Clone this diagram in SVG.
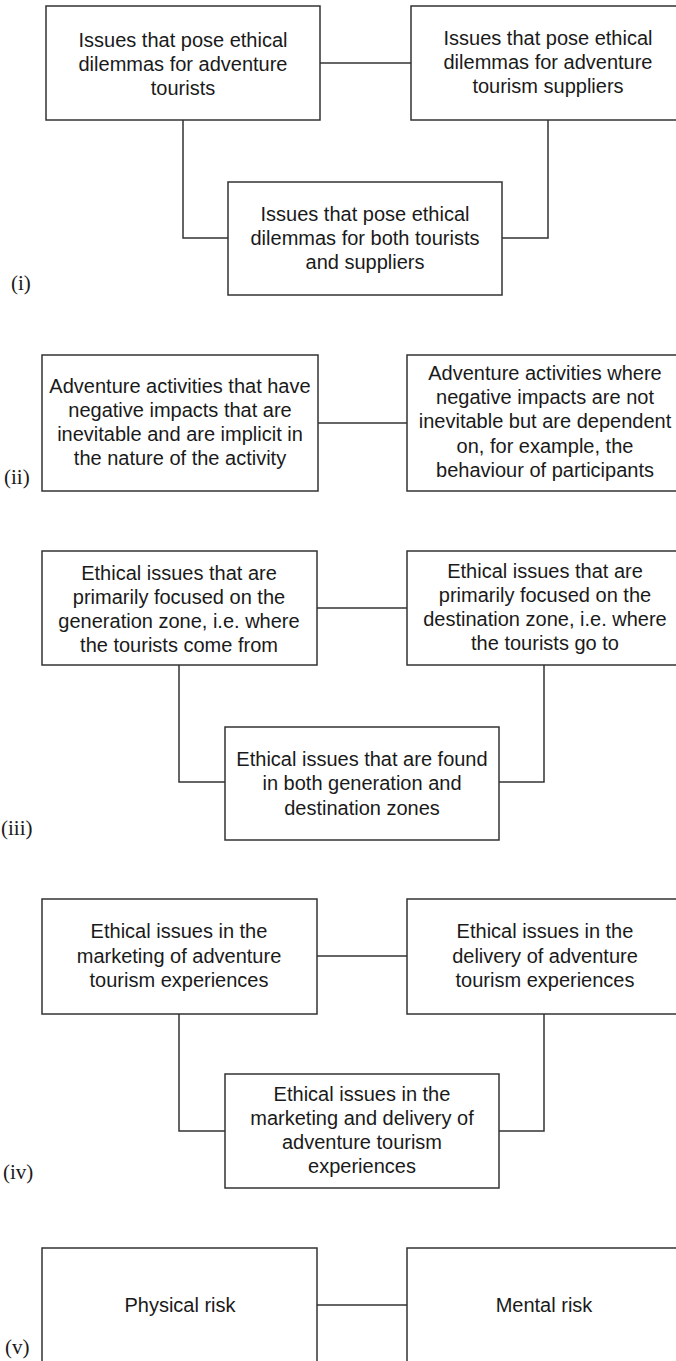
<svg xmlns="http://www.w3.org/2000/svg" width="676" height="1361" viewBox="0 0 676 1361">
<style>
.box{fill:#fff;stroke:#333;stroke-width:1.5}
.con{fill:none;stroke:#333;stroke-width:1.5}
.t{font-family:"Liberation Sans",Arial,sans-serif;font-size:20px;fill:#1a1a1a;text-anchor:middle}
.lab{font-family:"Liberation Serif","Times New Roman",serif;font-size:21px;fill:#1a1a1a}
</style>
<rect width="676" height="1361" fill="#fff"/>
<g id="connectors">
<path class="con" d="M320,63H411"/>
<path class="con" d="M183,120V238H228"/>
<path class="con" d="M548,120V238H502"/>
<path class="con" d="M318,423H407"/>
<path class="con" d="M317,608H407"/>
<path class="con" d="M179,665V782H225"/>
<path class="con" d="M544,665V782H499"/>
<path class="con" d="M317,956H407"/>
<path class="con" d="M179,1014V1131H225"/>
<path class="con" d="M544,1014V1131H499"/>
<path class="con" d="M317,1305H407"/>
</g>
<g id="i-a"><rect class="box" x="46" y="6" width="274" height="114"/>
<text class="t" x="183" y="47">Issues that pose ethical</text><text class="t" x="183" y="71">dilemmas for adventure</text><text class="t" x="183" y="95">tourists</text></g>
<g id="i-b"><rect class="box" x="411" y="6" width="280" height="114"/>
<text class="t" x="548" y="45">Issues that pose ethical</text><text class="t" x="548" y="69">dilemmas for adventure</text><text class="t" x="548" y="93">tourism suppliers</text></g>
<g id="i-c"><rect class="box" x="228" y="182" width="274" height="113"/>
<text class="t" x="365" y="221">Issues that pose ethical</text><text class="t" x="365" y="245">dilemmas for both tourists</text><text class="t" x="365" y="269">and suppliers</text></g>
<text class="lab" x="11" y="290">(i)</text>
<g id="ii-a"><rect class="box" x="42" y="355" width="276" height="136"/>
<text class="t" x="180" y="393">Adventure activities that have</text><text class="t" x="180" y="417">negative impacts that are</text><text class="t" x="180" y="441">inevitable and are implicit in</text><text class="t" x="180" y="465">the nature of the activity</text></g>
<g id="ii-b"><rect class="box" x="407" y="355" width="280" height="136"/>
<text class="t" x="545" y="380">Adventure activities where</text><text class="t" x="545" y="404">negative impacts are not</text><text class="t" x="545" y="428">inevitable but are dependent</text><text class="t" x="545" y="453">on, for example, the</text><text class="t" x="545" y="477">behaviour of participants</text></g>
<text class="lab" x="4" y="484">(ii)</text>
<g id="iii-a"><rect class="box" x="42" y="551" width="275" height="114"/>
<text class="t" x="179" y="580">Ethical issues that are</text><text class="t" x="179" y="604">primarily focused on the</text><text class="t" x="179" y="628">generation zone, i.e. where</text><text class="t" x="179" y="652">the tourists come from</text></g>
<g id="iii-b"><rect class="box" x="407" y="551" width="280" height="114"/>
<text class="t" x="545" y="578">Ethical issues that are</text><text class="t" x="545" y="602">primarily focused on the</text><text class="t" x="545" y="626">destination zone, i.e. where</text><text class="t" x="545" y="650">the tourists go to</text></g>
<g id="iii-c"><rect class="box" x="225" y="727" width="274" height="113"/>
<text class="t" x="362" y="766">Ethical issues that are found</text><text class="t" x="362" y="790">in both generation and</text><text class="t" x="362" y="815">destination zones</text></g>
<text class="lab" x="1" y="835">(iii)</text>
<g id="iv-a"><rect class="box" x="42" y="899" width="275" height="115"/>
<text class="t" x="179" y="938">Ethical issues in the</text><text class="t" x="179" y="963">marketing of adventure</text><text class="t" x="179" y="987">tourism experiences</text></g>
<g id="iv-b"><rect class="box" x="407" y="899" width="280" height="115"/>
<text class="t" x="545" y="938">Ethical issues in the</text><text class="t" x="545" y="963">delivery of adventure</text><text class="t" x="545" y="987">tourism experiences</text></g>
<g id="iv-c"><rect class="box" x="225" y="1074" width="274" height="114"/>
<text class="t" x="362" y="1101">Ethical issues in the</text><text class="t" x="362" y="1125">marketing and delivery of</text><text class="t" x="362" y="1149">adventure tourism</text><text class="t" x="362" y="1173">experiences</text></g>
<text class="lab" x="3" y="1179">(iv)</text>
<g id="v-a"><rect class="box" x="42" y="1248" width="275" height="130"/>
<text class="t" x="180" y="1312">Physical risk</text></g>
<g id="v-b"><rect class="box" x="407" y="1248" width="280" height="130"/>
<text class="t" x="544" y="1312">Mental risk</text></g>
<text class="lab" x="5" y="1354">(v)</text>
</svg>
